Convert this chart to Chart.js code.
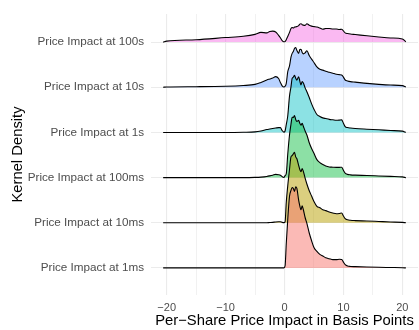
<!DOCTYPE html>
<html>
<head>
<meta charset="utf-8">
<script src="https://cdn.jsdelivr.net/npm/chart.js@4/dist/chart.umd.min.js"></script>
<style>
  html, body { margin: 0; padding: 0; background: #ffffff; }
  #wrap { width: 419px; height: 330px; }
</style>
</head>
<body>
<div id="wrap"><canvas id="ridges" width="419" height="330"></canvas></div>
<script>
// Ridge labels, bottom row first
const horizons = [
  'Price Impact at 1ms',
  'Price Impact at 10ms',
  'Price Impact at 100ms',
  'Price Impact at 1s',
  'Price Impact at 10s',
  'Price Impact at 100s'
];

// Evaluation points of the kernel density estimates (basis points)
const impactGrid = [-20.6,-20,-15,-10,-7,-5,-4,-3,-2.5,-2,-1.5,-1,-0.7,-0.4,-0.1,0.1,0.3,0.55,0.85,1.1,1.3,1.5,1.7,1.9,2.1,2.4,2.6,2.8,3.0,3.2,3.5,3.8,4.2,4.6,5.0,5.5,6.0,6.5,7.0,7.6,8.2,8.8,9.3,9.7,10.0,10.3,10.7,11.2,12,14,16,18,20,20.6];

// Estimated densities per horizon
const density1ms = [0,0,0,0,0,0,0,0,0,0,0,0,0,0,0,0.02,0.25,0.50,0.74,0.80,0.83,0.82,0.79,0.837,0.82,0.70,0.64,0.60,0.64,0.60,0.52,0.46,0.36,0.28,0.21,0.17,0.14,0.123,0.105,0.095,0.085,0.085,0.09,0.087,0.06,0.033,0.02,0.015,0.013,0.009,0.006,0.004,0.002,0];
const density10ms = [0,0,0,0,0,0,0,0,0.002,0.004,0.008,0.01,0.01,0.004,0.001,0.01,0.21,0.38,0.55,0.68,0.693,0.71,0.727,0.68,0.66,0.593,0.55,0.527,0.56,0.53,0.46,0.40,0.33,0.275,0.22,0.17,0.155,0.135,0.125,0.11,0.10,0.093,0.095,0.10,0.07,0.043,0.03,0.025,0.022,0.018,0.013,0.008,0.004,0];
const density100ms = [0,0,0,0,0,0.002,0.005,0.012,0.018,0.025,0.033,0.03,0.025,0.01,0.002,0.02,0.04,0.24,0.44,0.55,0.623,0.62,0.64,0.60,0.58,0.59,0.56,0.54,0.56,0.53,0.48,0.44,0.36,0.30,0.25,0.185,0.155,0.135,0.12,0.11,0.107,0.105,0.105,0.107,0.075,0.045,0.033,0.028,0.025,0.022,0.017,0.012,0.007,0];
const density1s = [0,0,0,0,0.002,0.006,0.015,0.03,0.035,0.04,0.045,0.05,0.05,0.02,0.003,0.015,0.08,0.17,0.375,0.47,0.558,0.57,0.59,0.56,0.54,0.575,0.53,0.49,0.525,0.51,0.46,0.42,0.36,0.295,0.24,0.185,0.165,0.15,0.143,0.135,0.13,0.125,0.127,0.13,0.095,0.06,0.05,0.045,0.04,0.033,0.027,0.02,0.013,0.001];
const density10s = [0,0.003,0.006,0.01,0.018,0.03,0.05,0.075,0.085,0.095,0.11,0.09,0.05,0.015,0.003,0.01,0.04,0.16,0.22,0.31,0.35,0.37,0.40,0.41,0.38,0.35,0.39,0.393,0.36,0.345,0.355,0.377,0.327,0.29,0.255,0.21,0.185,0.177,0.165,0.155,0.145,0.135,0.13,0.127,0.105,0.075,0.065,0.058,0.053,0.04,0.03,0.023,0.017,0.002];
const density100s = [0,0.01,0.025,0.047,0.06,0.08,0.10,0.095,0.11,0.113,0.105,0.07,0.045,0.015,0.003,0.005,0.025,0.057,0.10,0.14,0.15,0.145,0.155,0.157,0.16,0.17,0.185,0.19,0.18,0.175,0.173,0.19,0.175,0.165,0.16,0.155,0.145,0.133,0.14,0.14,0.135,0.135,0.13,0.133,0.115,0.095,0.088,0.083,0.078,0.065,0.053,0.043,0.033,0.003];

const xTickValues = [-20, -15, -10, -5, 0, 5, 10, 15, 20];

const densities = [density1ms, density10ms, density100ms, density1s, density10s, density100s];
const fills = [
  'rgba(248,118,109,0.5)',
  'rgba(183,159,0,0.5)',
  'rgba(0,186,56,0.45)',
  'rgba(0,191,196,0.45)',
  'rgba(97,156,255,0.45)',
  'rgba(245,100,227,0.45)'
];

// Density units spanned by one ridge row
const ROW_GAP = 0.466;
const FONT = '"Liberation Sans", Arial, Helvetica, sans-serif';

// Lower ridges are listed first so they are painted over the ones above
const datasets = horizons.map((name, i) => {
  const row = i + 1;
  return {
    label: name,
    data: impactGrid.map((x, k) => ({ x: x, y: row + densities[i][k] / ROW_GAP })),
    fill: { value: row },
    backgroundColor: fills[i],
    borderColor: '#000000',
    borderWidth: 1.1,
    pointRadius: 0,
    cubicInterpolationMode: 'monotone'
  };
});

const fmtMinus = v => (v < 0 ? '\u2212' + Math.abs(v) : String(v));

new Chart(document.getElementById('ridges'), {
  type: 'line',
  data: { datasets: datasets },
  options: {
    responsive: false,
    animation: false,
    events: [],
    layout: { padding: { top: 5, right: 1, left: 0, bottom: 0 } },
    plugins: { legend: { display: false }, tooltip: { enabled: false } },
    scales: {
      x: {
        type: 'linear',
        min: -22.66,
        max: 22.66,
        afterBuildTicks: s => { s.ticks = xTickValues.map(v => ({ value: v })); },
        afterFit: s => { s.height = 35; },
        ticks: {
          autoSkip: false,
          maxRotation: 0,
          padding: 6,
          color: '#4d4d4d',
          font: { family: FONT, size: 11 },
          callback: v => (v % 10 === 0 ? fmtMinus(v) : '')
        },
        grid: {
          color: '#ebebeb',
          lineWidth: c => (c.tick && c.tick.value % 10 === 0 ? 1.1 : 0.7),
          drawTicks: false
        },
        border: { display: false },
        title: {
          display: true,
          text: 'Per\u2212Share Price Impact in Basis Points',
          color: '#000000',
          font: { family: FONT, size: 14.8 },
          padding: { top: 0, bottom: 0 }
        }
      },
      y: {
        type: 'linear',
        min: 0.4,
        max: 6.622,
        afterBuildTicks: s => { s.ticks = horizons.map((_, i) => ({ value: i + 1 })); },
        afterFit: s => { s.width = 151; },
        ticks: {
          autoSkip: false,
          padding: 7,
          color: '#4d4d4d',
          font: { family: FONT, size: 11.7 },
          callback: v => horizons[Math.round(v) - 1]
        },
        grid: { color: '#ebebeb', lineWidth: 1.1, drawTicks: false },
        border: { display: false },
        title: {
          display: true,
          text: 'Kernel Density',
          color: '#000000',
          font: { family: FONT, size: 14.8 },
          padding: { top: 9, bottom: 0 }
        }
      }
    }
  }
});
</script>
</body>
</html>
